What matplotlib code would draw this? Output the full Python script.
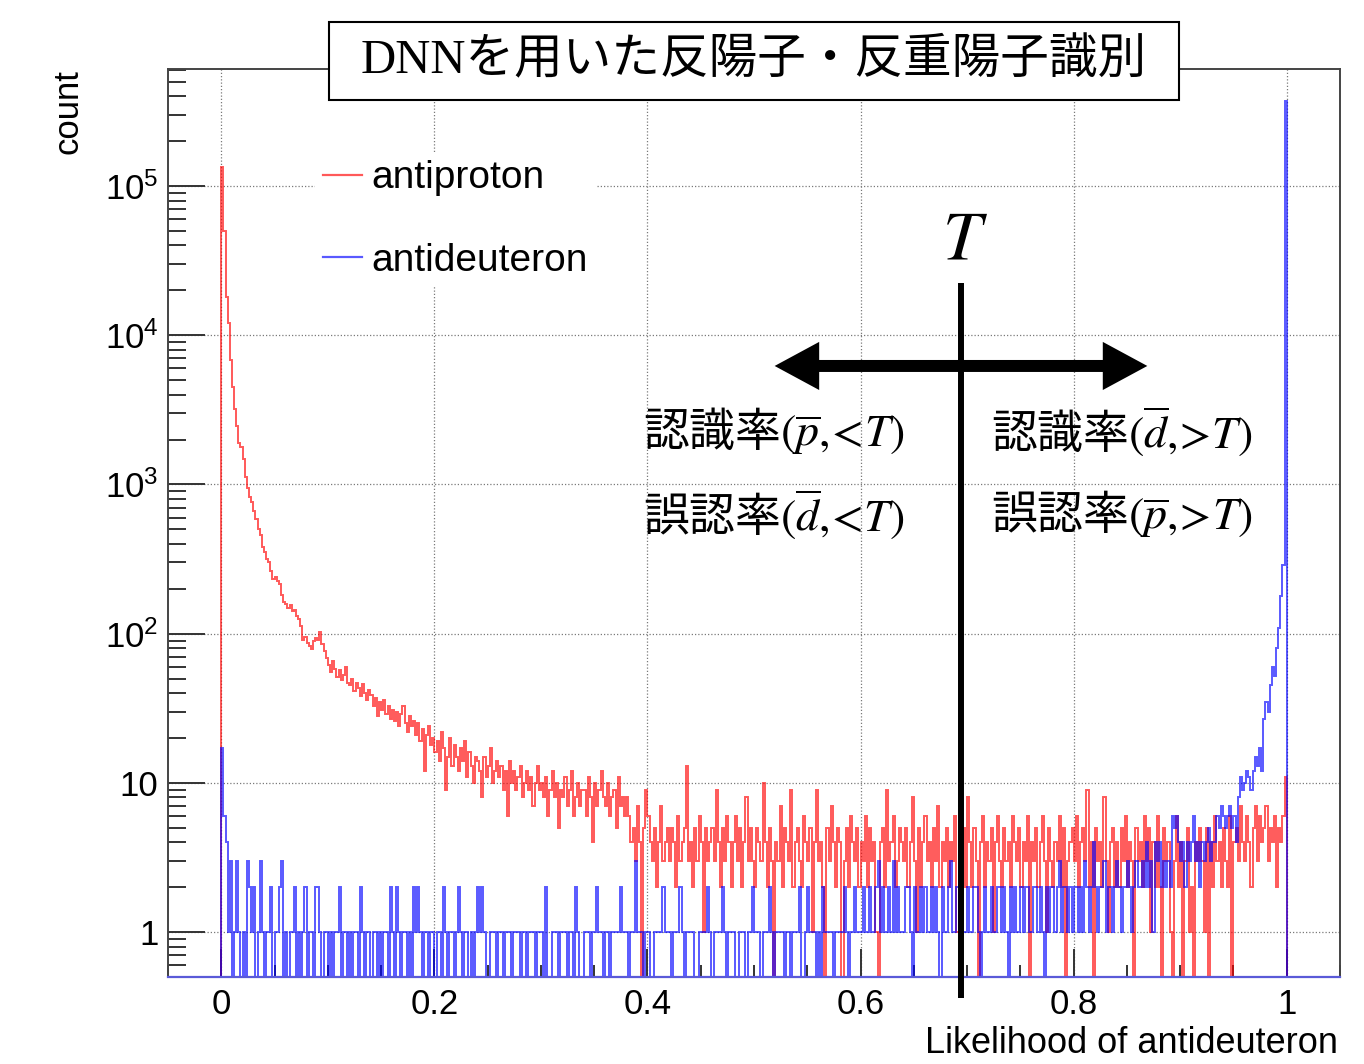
import numpy as np
import matplotlib
matplotlib.use('Agg')
import matplotlib.pyplot as plt
from matplotlib.patches import Rectangle, FancyArrow
from matplotlib.lines import Line2D
from matplotlib.ticker import MultipleLocator, FixedLocator, NullFormatter

plt.rcParams['font.family'] = ['Liberation Sans', 'DejaVu Sans']
plt.rcParams['mathtext.fontset'] = 'custom'
plt.rcParams['mathtext.rm'] = 'Liberation Sans'
plt.rcParams['mathtext.it'] = 'Liberation Sans:italic'
plt.rcParams['mathtext.bf'] = 'Liberation Sans:bold'

# histogram binning: 500 bins between 0 and 1
N_BINS = 500
edges = np.linspace(0.0, 1.0, N_BINS + 1)

# counts per bin (bin width 0.002)
antiproton = np.array([
    135000, 50000, 18000, 12000, 6800, 4500, 3200, 2450, 1900, 1780,
    1480, 1120, 950, 830, 760, 660, 590, 500, 457, 380,
    355, 316, 300, 263, 234, 240, 224, 214, 182, 162,
    158, 148, 155, 141, 145, 132, 126, 112, 91, 95,
    87, 83, 79, 89, 93, 91, 102, 85, 76, 69,
    62, 55, 66, 58, 51, 57, 49, 53, 60, 47,
    45, 50, 41, 47, 43, 38, 46, 40, 36, 42,
    39, 33, 37, 28, 35, 31, 36, 29, 33, 27,
    31, 26, 30, 24, 29, 33, 25, 22, 28, 24,
    26, 21, 25, 19, 23, 12, 21, 24, 18, 20,
    16, 19, 14, 22, 17, 9, 15, 20, 13, 18,
    15, 12, 17, 14, 19, 11, 16, 13, 10, 15,
    14, 12, 8, 15, 11, 13, 17, 10, 12, 14,
    11, 13, 9, 12, 6, 14, 10, 12, 9, 11,
    13, 8, 10, 12, 9, 11, 7, 10, 13, 9,
    10, 8, 11, 6, 9, 12, 8, 10, 5, 9,
    8, 11, 7, 9, 12, 6, 8, 10, 7, 9,
    9, 6, 11, 8, 4, 10, 7, 9, 12, 8,
    7, 10, 6, 8, 9, 5, 11, 7, 8, 6,
    8, 6, 4, 5, 3, 7, 4, 0, 5, 9,
    6, 4, 3, 5, 2, 4, 7, 3, 4, 5,
    3, 5, 4, 2, 6, 3, 4, 5, 13, 3,
    4, 2, 5, 3, 6, 4, 1, 5, 3, 4,
    5, 3, 9, 4, 2, 5, 3, 6, 4, 2,
    4, 6, 3, 5, 2, 4, 8, 3, 5, 3,
    2, 5, 4, 3, 10, 4, 2, 5, 3, 0,
    4, 3, 7, 2, 5, 4, 3, 9, 2, 4,
    5, 3, 2, 6, 4, 3, 5, 1, 4, 9,
    3, 4, 2, 0, 5, 3, 7, 4, 2, 5,
    4, 0, 3, 5, 2, 6, 4, 3, 5, 2,
    4, 3, 6, 2, 5, 3, 4, 1, 0, 4,
    5, 2, 9, 3, 4, 6, 2, 3, 5, 4,
    3, 5, 2, 4, 8, 3, 1, 5, 2, 4,
    6, 3, 4, 2, 5, 3, 7, 2, 4, 3,
    5, 2, 4, 3, 6, 1, 4, 3, 5, 2,
    8, 4, 2, 5, 3, 0, 4, 6, 2, 4,
    3, 5, 1, 4, 6, 3, 2, 5, 3, 4,
    2, 6, 4, 3, 5, 2, 4, 3, 6, 0,
    4, 3, 5, 2, 4, 6, 3, 1, 5, 3,
    2, 4, 3, 6, 2, 5, 0, 3, 4, 5,
    3, 6, 2, 4, 5, 3, 9, 2, 4, 0,
    5, 3, 4, 2, 8, 3, 1, 4, 5, 2,
    4, 2, 5, 3, 6, 2, 4, 3, 0, 5,
    3, 4, 2, 6, 3, 5, 1, 4, 2, 6,
    2, 0, 5, 3, 4, 1, 0, 3, 6, 2,
    4, 0, 3, 5, 1, 2, 0, 4, 3, 5,
    3, 1, 5, 0, 4, 2, 6, 3, 4, 2,
    5, 3, 2, 6, 0, 4, 5, 3, 7, 4,
    3, 6, 4, 2, 5, 7, 3, 6, 4, 5,
    7, 3, 5, 4, 6, 2, 5, 4, 6, 11,
])

antideuteron = np.array([
    17, 6, 4, 1, 3, 0, 1, 3, 1, 0,
    1, 0, 3, 2, 1, 2, 0, 1, 3, 1,
    0, 1, 1, 2, 0, 1, 1, 2, 3, 0,
    1, 0, 1, 1, 2, 0, 1, 0, 1, 2,
    0, 1, 1, 0, 2, 2, 1, 0, 1, 1,
    0, 1, 0, 1, 1, 2, 0, 1, 1, 0,
    1, 0, 1, 1, 0, 2, 1, 0, 1, 1,
    0, 1, 1, 0, 1, 0, 1, 1, 0, 2,
    1, 0, 2, 1, 0, 1, 1, 0, 1, 0,
    2, 1, 2, 1, 0, 1, 1, 0, 1, 1,
    0, 1, 1, 0, 2, 1, 0, 1, 1, 0,
    1, 2, 1, 0, 1, 1, 0, 1, 0, 1,
    2, 1, 2, 1, 0, 0, 1, 1, 1, 0,
    1, 1, 0, 1, 1, 1, 0, 1, 1, 1,
    0, 1, 1, 0, 1, 1, 1, 0, 1, 1,
    1, 0, 2, 0, 0, 1, 1, 1, 0, 1,
    1, 1, 0, 1, 1, 0, 2, 1, 0, 0,
    1, 1, 1, 0, 1, 1, 2, 1, 1, 0,
    1, 1, 0, 1, 1, 1, 1, 2, 1, 1,
    1, 0, 1, 1, 3, 1, 1, 1, 0, 1,
    1, 0, 0, 1, 1, 1, 1, 2, 1, 1,
    1, 0, 1, 1, 1, 2, 1, 0, 1, 1,
    1, 1, 0, 0, 1, 1, 1, 1, 2, 1,
    0, 1, 1, 1, 1, 2, 1, 0, 1, 1,
    1, 0, 0, 1, 1, 1, 0, 1, 1, 2,
    1, 1, 1, 0, 1, 1, 1, 2, 1, 0,
    1, 1, 1, 1, 0, 1, 1, 0, 1, 1,
    1, 2, 0, 0, 1, 2, 1, 1, 1, 0,
    1, 0, 2, 1, 1, 1, 1, 0, 1, 1,
    1, 1, 2, 1, 0, 1, 1, 2, 1, 1,
    1, 2, 1, 1, 2, 1, 1, 2, 3, 1,
    2, 1, 1, 2, 1, 3, 1, 2, 1, 1,
    1, 2, 2, 1, 0, 2, 1, 1, 2, 1,
    2, 1, 1, 2, 1, 2, 1, 0, 2, 1,
    1, 2, 3, 1, 1, 2, 1, 2, 1, 1,
    2, 1, 1, 2, 2, 1, 0, 1, 2, 1,
    1, 2, 1, 1, 2, 2, 1, 2, 1, 0,
    2, 1, 2, 1, 1, 2, 1, 2, 2, 1,
    1, 2, 2, 1, 2, 1, 0, 2, 1, 2,
    2, 1, 2, 3, 1, 2, 2, 1, 2, 1,
    2, 2, 1, 2, 1, 3, 2, 1, 2, 4,
    2, 1, 2, 2, 3, 1, 2, 2, 1, 2,
    3, 2, 1, 2, 2, 3, 2, 1, 2, 3,
    2, 2, 3, 2, 4, 2, 3, 1, 4, 3,
    4, 2, 3, 2, 3, 2, 6, 5, 6, 4,
    3, 4, 2, 4, 3, 4, 6, 3, 4, 2,
    4, 3, 4, 5, 3, 4, 4, 6, 5, 7,
    6, 5, 6, 7, 5, 6, 4, 8, 11, 9,
    10, 12, 11, 9, 12, 15, 13, 17, 12, 27,
    35, 30, 45, 60, 52, 80, 110, 180, 290, 370000,
])
assert len(antiproton) == N_BINS and len(antideuteron) == N_BINS

labels = ['antiproton', 'antideuteron']
colors = ['#ff0000', '#0000ff']
x_ticks = [0, 0.2, 0.4, 0.6, 0.8, 1.0]
x_ticklabels = ['0', '0.2', '0.4', '0.6', '0.8', '1']
y_ticks = [1, 10, 1e2, 1e3, 1e4, 1e5]
y_ticklabels = ['1', '10', r'$\mathregular{10^{2}}$', r'$\mathregular{10^{3}}$',
                r'$\mathregular{10^{4}}$', r'$\mathregular{10^{5}}$']
T_CUT = 0.6945
FLOOR = 1e-2   # empty bins drawn below the axis

fig = plt.figure(figsize=(13.64, 10.64), dpi=100)
ax = fig.add_axes([0.1232, 0.0818, 0.8592, 0.8534])
ax.set_yscale('log')

for counts, c in zip([antiproton, antideuteron], colors):
    ax.stairs(np.where(counts > 0, counts, FLOOR), edges, baseline=FLOOR,
              color=c, alpha=0.65, lw=1.4, zorder=2)

ax.set_xlim(-0.05, 1.05)
ax.set_ylim(0.5, 6.1e5)

ax.set_xticks(x_ticks, x_ticklabels)
ax.xaxis.set_minor_locator(MultipleLocator(0.05))
ax.set_yticks(y_ticks, y_ticklabels)
minor_y = [m * 10.0**e for e in range(-1, 6) for m in range(2, 10)]
ax.yaxis.set_minor_locator(FixedLocator(minor_y))
ax.yaxis.set_minor_formatter(NullFormatter())

ax.tick_params(axis='both', which='both', direction='in', top=False, right=False,
               colors='#333333', width=1.4, labelsize=25, labelcolor='black')
ax.tick_params(axis='y', which='major', length=26.5, pad=7)
ax.tick_params(axis='y', which='minor', length=13)
ax.tick_params(axis='x', which='major', length=20, pad=8)
ax.tick_params(axis='x', which='minor', length=9)

ax.grid(True, which='major', color='#7a7a7a', lw=0.9, linestyle=(0, (1, 1.6)))
for s in ['left', 'top', 'right']:
    ax.spines[s].set_color('#444444')
    ax.spines[s].set_linewidth(1.4)
ax.spines['bottom'].set_color('#5a5ad8')
ax.spines['bottom'].set_linewidth(1.6)

ax.text(-0.0853, 1.0, 'count', rotation=90, ha='center', va='top',
        transform=ax.transAxes, fontsize=25)
ax.text(0.9985, -0.0735, 'Likelihood of antideuteron', ha='right', va='center',
        transform=ax.transAxes, fontsize=26)

handles = [Line2D([], [], color=c, alpha=0.65, lw=1.6) for c in colors]
ax.legend(handles, labels, loc='upper left', bbox_to_anchor=(0.1254, 0.908),
          fontsize=28, handlelength=1.0, handletextpad=0.26, labelspacing=1.2,
          borderpad=0.2, borderaxespad=0, frameon=True, fancybox=False,
          edgecolor='none', facecolor='white', framealpha=1)

# cut line and the arrows
ax.plot([T_CUT, T_CUT], [-0.023, 0.764], transform=ax.get_xaxis_transform(),
        color='black', lw=4.3, clip_on=False, solid_capstyle='butt', zorder=6)
for dx in [-0.159, 0.159]:
    ax.add_patch(FancyArrow(0.6766, 0.6729, dx, 0, width=0.0132, head_width=0.053,
                            head_length=0.038, length_includes_head=True,
                            transform=ax.transAxes, color='black', lw=0, zorder=6))
ax.text(0.680, 0.8106, '$T$', transform=ax.transAxes, ha='center', va='center',
        fontsize=50, math_fontfamily='stix', zorder=6)

jp = dict(transform=ax.transAxes, ha='left', va='center', fontsize=33,
          family='Noto Sans CJK JP', math_fontfamily='stix', zorder=6)
ax.text(0.405, 0.600, r'認識率$(\overline{p}{,}\!<\!T)$', **jp)
ax.text(0.405, 0.509, r'誤認率$(\overline{d}{,}\!<\!T)$', **jp)
ax.text(0.702, 0.600, r'認識率$(\overline{d}{,}\!>\!T)$', **jp)
ax.text(0.702, 0.509, r'誤認率$(\overline{p}{,}\!>\!T)$', **jp)

# title box
fig.add_artist(Rectangle((0.2412, 0.906), 0.6232, 0.0733, transform=fig.transFigure,
                         facecolor='white', edgecolor='black', lw=1.5, zorder=10))
fig.text(0.5528, 0.9427, 'DNNを用いた反陽子・反重陽子識別', ha='center', va='center',
         fontsize=35, family=['Liberation Serif', 'Noto Sans CJK JP'], zorder=11)

fig.savefig('out.png', dpi=100)
